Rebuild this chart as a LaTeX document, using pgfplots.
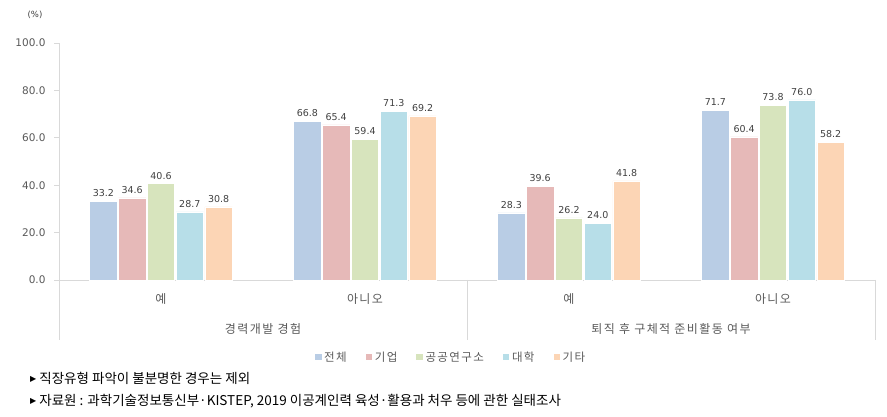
\documentclass[border=0pt]{standalone}
\usepackage{fontspec}
\setmainfont{Noto Sans CJK KR}
\newfontfamily\djv{DejaVu Sans}
\newfontfamily\krsp[LetterSpace=12]{Noto Sans CJK KR}
\usepackage{pgfplots}
\pgfplotsset{compat=1.18}
\definecolor{c1}{HTML}{B9CDE5}
\definecolor{c2}{HTML}{E6B9B8}
\definecolor{c3}{HTML}{D7E4BD}
\definecolor{c4}{HTML}{B7DEE8}
\definecolor{c5}{HTML}{FCD5B5}
\definecolor{axgray}{HTML}{D9D9D9}
\definecolor{txt}{HTML}{595959}
\definecolor{txtb}{HTML}{404040}
\begin{document}
\begin{tikzpicture}[x=1pt,y=1pt]
\path[use as bounding box] (0,0) rectangle (887,417);
\begin{axis}[
  at={(59pt,137pt)}, anchor=south west,
  scale only axis, width=816pt, height=237pt,
  xmin=-0.5, xmax=3.5, ymin=0, ymax=100,
  ybar=1.3pt, bar width=27.5pt,
  axis x line*=bottom, axis y line*=left,
  axis line style={draw=axgray, line width=0.8pt},
  ytick={0,20,40,60,80,100},
  /pgf/number format/assume math mode=true,
  yticklabel style={/pgf/number format/.cd, fixed, fixed zerofill, precision=1, /tikz/.cd, font=\djv\fontsize{10.5}{12}\selectfont, text=txt, xshift=-5pt},
  y tick style={draw=axgray, line width=0.8pt}, major tick length=5pt, tick align=outside,
  xtick={0,1,2,3}, xticklabels={예,아니오,예,아니오},
  x tick style={draw=none},
  xticklabel style={font=\krsp\fontsize{12}{14}\selectfont, text=txt, yshift=-5pt},
  clip=false,
  nodes near coords={\pgfmathprintnumber[fixed,fixed zerofill,precision=1]{\pgfplotspointmeta}},
  every node near coord/.append style={font=\djv\fontsize{9.5}{11}\selectfont, text=txtb, yshift=1pt},
  legend columns=5,
  legend style={at={(0.48,-0.325)}, anchor=center, draw=none, fill=none, font=\krsp\fontsize{11.5}{13}\selectfont, text=txt,
    /tikz/every even column/.append style={column sep=16pt}},
  legend image code/.code={\fill[#1] (0pt,-3.5pt) rectangle (7.5pt,4pt);},
]
\addplot[fill=c1, draw=white, line width=0.6pt] coordinates {(0,33.2) (1,66.8) (2,28.3) (3,71.7)};
\addplot[fill=c2, draw=white, line width=0.6pt] coordinates {(0,34.6) (1,65.4) (2,39.6) (3,60.4)};
\addplot[fill=c3, draw=white, line width=0.6pt] coordinates {(0,40.6) (1,59.4) (2,26.2) (3,73.8)};
\addplot[fill=c4, draw=white, line width=0.6pt] coordinates {(0,28.7) (1,71.3) (2,24.0) (3,76.0)};
\addplot[fill=c5, draw=white, line width=0.6pt] coordinates {(0,30.8) (1,69.2) (2,41.8) (3,58.2)};
\legend{전체,기업,공공연구소,대학,기타}
\end{axis}
\draw[axgray, line width=0.8pt] (59,137) -- (59,77);
\draw[axgray, line width=0.8pt] (467,137) -- (467,77);
\draw[axgray, line width=0.8pt] (875,137) -- (875,77);
\node[font=\krsp\fontsize{12}{14}\selectfont, text=txt] at (263,88) {경력개발 경험};
\node[font=\krsp\fontsize{12}{14}\selectfont, text=txt] at (671,88) {퇴직 후 구체적 준비활동 여부};
\node[font=\djv\fontsize{8.5}{10}\selectfont, text=txtb] at (35,402) {(\%)};
\node[anchor=west, font=\fontsize{13.5}{15}\selectfont, inner sep=0pt] at (30,39) {\raisebox{1.5pt}{\djv\fontsize{8}{10}\selectfont ▶} 직장유형 파악이 불분명한 경우는 제외};
\node[anchor=west, font=\fontsize{13.5}{15}\selectfont, inner sep=0pt] at (30,16) {\raisebox{1.5pt}{\djv\fontsize{8}{10}\selectfont ▶} 자료원 : 과학기술정보통신부·KISTEP, 2019 이공계인력 육성·활용과 처우 등에 관한 실태조사};
\end{tikzpicture}
\end{document}
